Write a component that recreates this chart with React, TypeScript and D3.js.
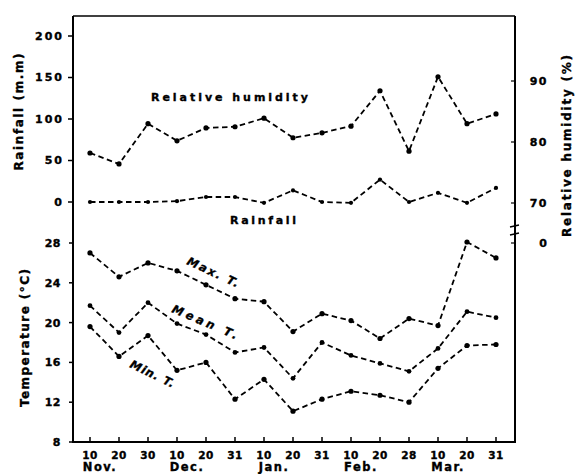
import * as d3 from 'd3';
import { useEffect, useRef } from 'react';

const dayLabels = ['10', '20', '30', '10', '20', '31', '10', '20', '31', '10', '20', '28', '10', '20', '31'];
const monthNames = ['Nov.', 'Dec.', 'Jan.', 'Feb.', 'Mar.'];
const monthStart = [0, 3, 6, 9, 12];

const humidity = [78.2, 76.4, 83.0, 80.2, 82.3, 82.5, 83.9, 80.7, 81.5, 82.6, 88.4, 78.5, 90.7, 83.0, 84.6];
const rainfall = [0, 0, 0, 1, 6, 6, -1, 14, 0, -1, 27, 0, 11, -1, 17];
const maxT = [27.0, 24.6, 26.0, 25.2, 23.8, 22.4, 22.1, 19.1, 20.9, 20.2, 18.4, 20.4, 19.7, 28.1, 26.5];
const meanT = [21.7, 19.0, 22.0, 19.9, 18.8, 17.0, 17.5, 14.4, 18.0, 16.7, 15.9, 15.1, 17.4, 21.1, 20.5];
const minT = [19.6, 16.6, 18.7, 15.2, 16.0, 12.3, 14.3, 11.1, 12.3, 13.1, 12.7, 12.0, 15.4, 17.7, 17.8];

const rainTicks = [0, 50, 100, 150, 200];
const tempTicks = [8, 12, 16, 20, 24, 28];
const humTicks = [70, 80, 90];

const W = 576;
const H = 474;
const FONT = '"DejaVu Sans", sans-serif';

export default function App() {
  const ref = useRef<SVGSVGElement>(null);

  useEffect(() => {
    const svg = d3.select(ref.current);
    svg.selectAll('*').remove();

    const left = 73;
    const right = 515;
    const top = 16;
    const bottom = 442;

    const x = d3.scalePoint<number>()
      .domain(d3.range(dayLabels.length))
      .range([90, 496]);
    const yRain = d3.scaleLinear().domain([0, 200]).range([202, 36]);
    const yHum = d3.scaleLinear().domain([70, 90]).range([203, 81]);
    const yTemp = d3.scaleLinear().domain([8, 28]).range([bottom, 243]);

    const g = svg.append('g')
      .attr('font-family', FONT)
      .attr('font-weight', 'bold')
      .attr('fill', '#000');

    // frame
    g.append('line').attr('x1', left).attr('x2', right).attr('y1', top).attr('y2', top)
      .attr('stroke', '#000').attr('stroke-width', 1.5);
    g.append('line').attr('x1', left).attr('x2', left).attr('y1', top).attr('y2', bottom)
      .attr('stroke', '#000').attr('stroke-width', 2);
    g.append('line').attr('x1', right).attr('x2', right).attr('y1', top).attr('y2', bottom)
      .attr('stroke', '#000').attr('stroke-width', 2);
    g.append('line').attr('x1', left - 1).attr('x2', right + 1).attr('y1', bottom).attr('y2', bottom)
      .attr('stroke', '#000').attr('stroke-width', 2);

    const labels = g.append('g').attr('stroke', '#000').attr('stroke-width', 0.35);

    // left rainfall ticks
    rainTicks.forEach((t) => {
      g.append('line').attr('x1', left - 5).attr('x2', left).attr('y1', yRain(t)).attr('y2', yRain(t))
        .attr('stroke', '#000').attr('stroke-width', 1.5);
      labels.append('text').attr('x', left - 9).attr('y', yRain(t)).attr('dy', '0.36em')
        .attr('text-anchor', 'end').attr('font-size', 11).attr('letter-spacing', 2)
        .text(t);
    });

    // left temperature ticks
    tempTicks.forEach((t) => {
      g.append('line').attr('x1', left - 4).attr('x2', left).attr('y1', yTemp(t)).attr('y2', yTemp(t))
        .attr('stroke', '#000').attr('stroke-width', 1.5);
      labels.append('text').attr('x', left - 12).attr('y', yTemp(t)).attr('dy', '0.36em')
        .attr('text-anchor', 'end').attr('font-size', 11).attr('letter-spacing', 0.5)
        .text(t);
    });

    // right humidity ticks
    humTicks.forEach((t) => {
      g.append('line').attr('x1', right - 4).attr('x2', right).attr('y1', yHum(t)).attr('y2', yHum(t))
        .attr('stroke', '#000').attr('stroke-width', 1.2);
      labels.append('text').attr('x', 548).attr('y', yHum(t)).attr('dy', '0.36em')
        .attr('text-anchor', 'end').attr('font-size', 11).attr('letter-spacing', 1.5)
        .text(t);
    });
    labels.append('text').attr('x', 547).attr('y', 243).attr('dy', '0.36em')
      .attr('text-anchor', 'end').attr('font-size', 11).text('0');
    // axis break marks
    [226, 234].forEach((yy) => {
      g.append('line').attr('x1', right - 5).attr('x2', right + 4).attr('y1', yy + 1).attr('y2', yy - 1)
        .attr('stroke', '#000').attr('stroke-width', 1.5);
    });
    g.append('line').attr('x1', right - 4).attr('x2', right).attr('y1', 243).attr('y2', 243)
      .attr('stroke', '#000').attr('stroke-width', 1.2);

    // bottom ticks and labels
    dayLabels.forEach((d, i) => {
      g.append('line').attr('x1', x(i)).attr('x2', x(i)).attr('y1', bottom).attr('y2', bottom - 5)
        .attr('stroke', '#000').attr('stroke-width', 1.5);
      labels.append('text').attr('x', x(i)).attr('y', 455).attr('dy', '0.36em')
        .attr('text-anchor', 'middle').attr('font-size', 10.5).attr('letter-spacing', 0.5)
        .text(d);
    });
    monthNames.forEach((m, i) => {
      labels.append('text').attr('x', (x(monthStart[i]) as number) + 10).attr('y', 471)
        .attr('text-anchor', 'middle').attr('font-size', 11.5).attr('letter-spacing', 1.5)
        .text(m);
    });

    // axis titles
    labels.append('text').attr('transform', 'translate(23,112) rotate(-90)')
      .attr('text-anchor', 'middle').attr('font-size', 12)
      .attr('textLength', 117).attr('lengthAdjust', 'spacing')
      .text('Rainfall (m.m)');
    labels.append('text').attr('transform', 'translate(29,338) rotate(-90)')
      .attr('text-anchor', 'middle').attr('font-size', 12)
      .attr('textLength', 138).attr('lengthAdjust', 'spacing')
      .text('Temperature (°C)');
    labels.append('text').attr('transform', 'translate(571,146) rotate(-90)')
      .attr('text-anchor', 'middle').attr('font-size', 12)
      .attr('textLength', 182).attr('lengthAdjust', 'spacing')
      .text('Relative humidity (%)');

    // series
    const series = [
      { values: humidity, y: yHum, r: 2.6 },
      { values: rainfall, y: yRain, r: 2.1 },
      { values: maxT, y: yTemp, r: 2.6 },
      { values: meanT, y: yTemp, r: 2.4 },
      { values: minT, y: yTemp, r: 2.6 },
    ];
    series.forEach((s) => {
      const line = d3.line<number>()
        .x((_, i) => x(i) as number)
        .y((v) => s.y(v));
      g.append('path').attr('d', line(s.values))
        .attr('fill', 'none').attr('stroke', '#000')
        .attr('stroke-width', 1.8).attr('stroke-dasharray', '5.5,3.5');
      g.selectAll(null).data(s.values).enter().append('circle')
        .attr('cx', (_, i) => x(i) as number)
        .attr('cy', (v) => s.y(v))
        .attr('r', s.r);
    });

    // series labels
    labels.append('text').attr('x', 151).attr('y', 101).attr('font-size', 11)
      .attr('textLength', 157).attr('lengthAdjust', 'spacing')
      .text('Relative humidity');
    labels.append('text').attr('x', 230).attr('y', 224).attr('font-size', 11)
      .attr('textLength', 66).attr('lengthAdjust', 'spacing')
      .text('Rainfall');
    labels.append('text').attr('transform', 'translate(186,264) rotate(25)')
      .attr('font-size', 11.5).attr('font-style', 'italic')
      .attr('textLength', 56).attr('lengthAdjust', 'spacing')
      .text('Max. T.');
    labels.append('text').attr('transform', 'translate(171,312) rotate(23)')
      .attr('font-size', 11.5).attr('font-style', 'italic')
      .attr('textLength', 70).attr('lengthAdjust', 'spacing')
      .text('Mean  T.');
    labels.append('text').attr('transform', 'translate(129,367) rotate(26)')
      .attr('font-size', 11.5).attr('font-style', 'italic')
      .attr('textLength', 48).attr('lengthAdjust', 'spacing')
      .text('Min. T.');
  }, []);

  return (
    <svg
      ref={ref}
      width={W}
      height={H}
      style={{ position: 'absolute', left: 0, top: 0, background: '#fff' }}
    />
  );
}
